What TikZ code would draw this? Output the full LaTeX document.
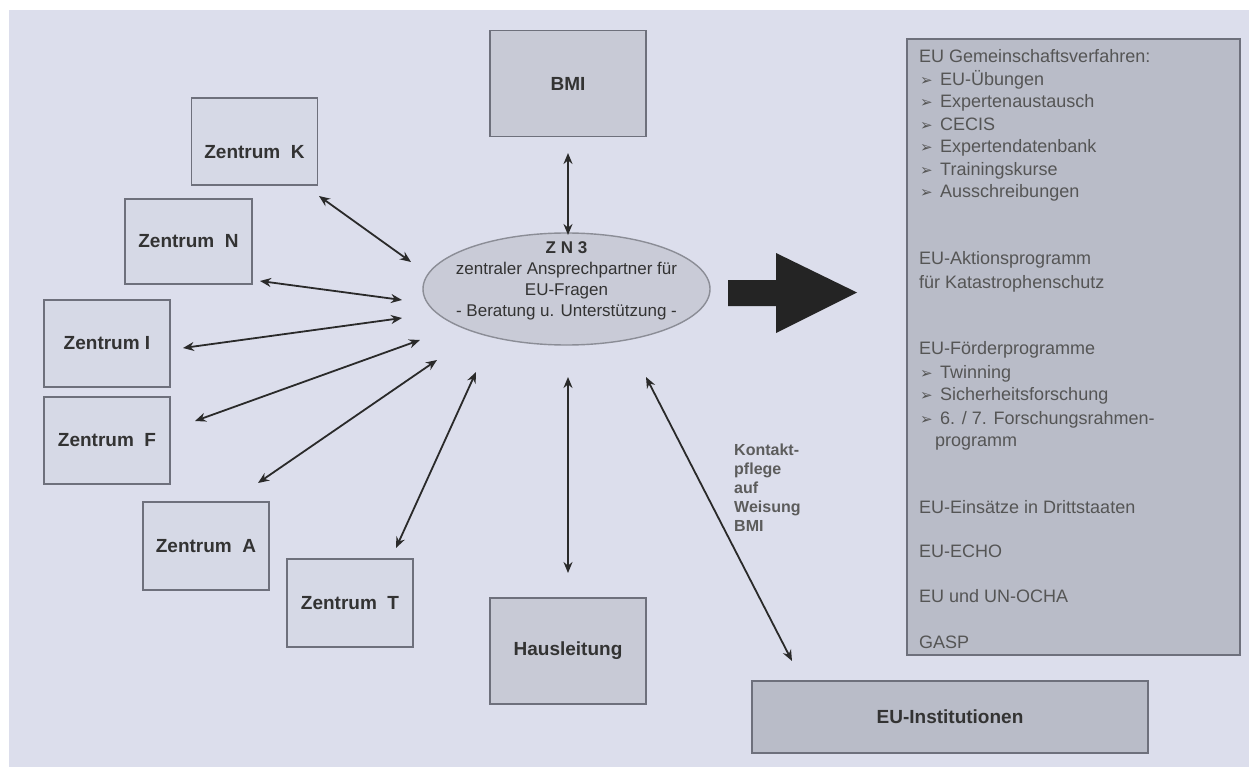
\documentclass[tikz,border=0pt]{standalone}
\usepackage{fontspec}
\setmainfont{Liberation Sans}
\newfontfamily\dejavu{DejaVu Sans}
\usetikzlibrary{arrows.meta,shapes.geometric}
\definecolor{bgcol}{HTML}{DCDEEC}
\definecolor{zfill}{HTML}{D6D9E6}
\definecolor{midfill}{HTML}{C8CAD6}
\definecolor{darkfill}{HTML}{B9BCC8}
\definecolor{bordercol}{HTML}{6E707C}
\definecolor{labelcol}{HTML}{333333}
\definecolor{rtcol}{HTML}{555555}
\definecolor{arrowcol}{HTML}{2A2A2A}
\definecolor{ellfill}{HTML}{C9CBD7}
\newcommand\rline[4]{\node[rtext] (#1) at (#2,#3) {#4};}
\newcommand\bul{\makebox[20pt][l]{\dejavu\fontsize{15}{15}\selectfont ➢}}
\begin{document}
\begin{tikzpicture}[x=1pt,y=-1pt,
  zbox/.style={draw=bordercol, line width=1.8pt, fill=zfill, minimum width=126pt, minimum height=87pt, inner sep=0pt, font=\fontsize{19}{22}\selectfont\bfseries, text=labelcol},
  midbox/.style={zbox, fill=midfill, minimum width=156pt, minimum height=106pt},
  darkbox/.style={zbox, fill=darkfill},
  rtext/.style={anchor=base west, inner sep=0pt, font=\fontsize{18}{22}\selectfont, text=rtcol},
  dbl/.style={{Stealth[length=11pt,width=9pt]}-{Stealth[length=11pt,width=9pt]}, line width=1.8pt, draw=arrowcol},
  bigarrow/.style={fill=arrowcol!85!black}
]
\useasboundingbox (0,0) rectangle (1249,767);
\fill[white] (0,0) rectangle (1249,767);
\fill[bgcol] (9,10) rectangle (1249,767);

% boxes
\node[midbox] (BMI) at (568,83.5) {BMI};
\node[zbox, label={[font=\fontsize{19}{22}\selectfont\bfseries, text=labelcol, yshift=-11pt]center:Zentrum\ \ K}] (K) at (254.5,141.5) {};
\node[zbox, minimum width=127pt, minimum height=85pt] (N) at (188.5,241.5) {Zentrum\ \ N};
\node[zbox] (I) at (107,343.5) {Zentrum I};
\node[zbox] (F) at (107,440.5) {Zentrum\ \ F};
\node[zbox, minimum height=88pt] (A) at (206,546) {Zentrum\ \ A};
\node[zbox, minimum height=88pt] (T) at (350,603) {Zentrum\ \ T};
\node[midbox] (H) at (568,651) {Hausleitung};
\node[darkbox, minimum width=396pt, minimum height=72pt] (EUI) at (950,717) {EU-Institutionen};
\node[darkbox, minimum width=333pt, minimum height=616pt] (R) at (1073.5,347) {};

% central ellipse
\node[draw=bordercol!80, line width=1.4pt, fill=ellfill, ellipse, minimum width=287pt, minimum height=112pt, inner sep=0pt,
  label={[align=center, font=\fontsize{17}{21}\selectfont, text=labelcol, yshift=8pt]center:{\bfseries Z N 3}\\zentraler Ansprechpartner für\\EU-Fragen\\- Beratung u. Unterstützung -}] (Z) at (566.5,289) {};

% big arrow
\fill[bigarrow] (728,280) -- (776,280) -- (776,253) -- (857,292.5) -- (776,333) -- (776,306) -- (728,306) -- cycle;

% arrow end points
\coordinate (bmiA) at (568,153); \coordinate (bmiB) at (568,235);
\coordinate (kA) at (319,196);   \coordinate (kB) at (411,262);
\coordinate (nA) at (260,281);   \coordinate (nB) at (402,300);
\coordinate (iA) at (183,348);   \coordinate (iB) at (402,318);
\coordinate (fA) at (195,421);   \coordinate (fB) at (420,340);
\coordinate (aA) at (258,483);   \coordinate (aB) at (437,360);
\coordinate (tA) at (396,548);   \coordinate (tB) at (476,372);
\coordinate (hA) at (568,377);   \coordinate (hB) at (568,573);
\coordinate (eA) at (646,377);   \coordinate (eB) at (792,661);

\draw[dbl] (bmiA) -- (bmiB);
\draw[dbl] (kA) -- (kB);
\draw[dbl] (nA) -- (nB);
\draw[dbl] (iA) -- (iB);
\draw[dbl] (fA) -- (fB);
\draw[dbl] (aA) -- (aB);
\draw[dbl] (tA) -- (tB);
\draw[dbl] (hA) -- (hB);
\draw[dbl] (eA) -- (eB);

\node[anchor=north west, align=left, inner sep=0pt, font=\fontsize{16}{19}\selectfont\bfseries, text=labelcol!80] (kontakt) at (734,444) {Kontakt-\\pflege\\auf\\Weisung\\BMI};

% right box text
\rline{r1}{919}{63}{EU Gemeinschaftsverfahren:}
\rline{r2}{920}{85.5}{\bul EU-Übungen}
\rline{r3}{920}{108}{\bul Expertenaustausch}
\rline{r4}{920}{130.5}{\bul CECIS}
\rline{r5}{920}{153}{\bul Expertendatenbank}
\rline{r6}{920}{175.5}{\bul Trainingskurse}
\rline{r7}{920}{198}{\bul Ausschreibungen}
\rline{r8}{919}{264.5}{EU-Aktionsprogramm}
\rline{r9}{919}{288}{für Katastrophenschutz}
\rline{r10}{919}{354.5}{EU-Förderprogramme}
\rline{r11}{920}{378}{\bul Twinning}
\rline{r12}{920}{400.5}{\bul Sicherheitsforschung}
\rline{r13}{920}{424}{\bul 6. / 7. Forschungsrahmen-}
\rline{r14}{935}{446.5}{programm}
\rline{r15}{919}{513}{EU-Einsätze in Drittstaaten}
\rline{r16}{919}{557}{EU-ECHO}
\rline{r17}{919}{602.5}{EU und UN-OCHA}
\rline{r18}{919}{648}{GASP}
\end{tikzpicture}
\end{document}
